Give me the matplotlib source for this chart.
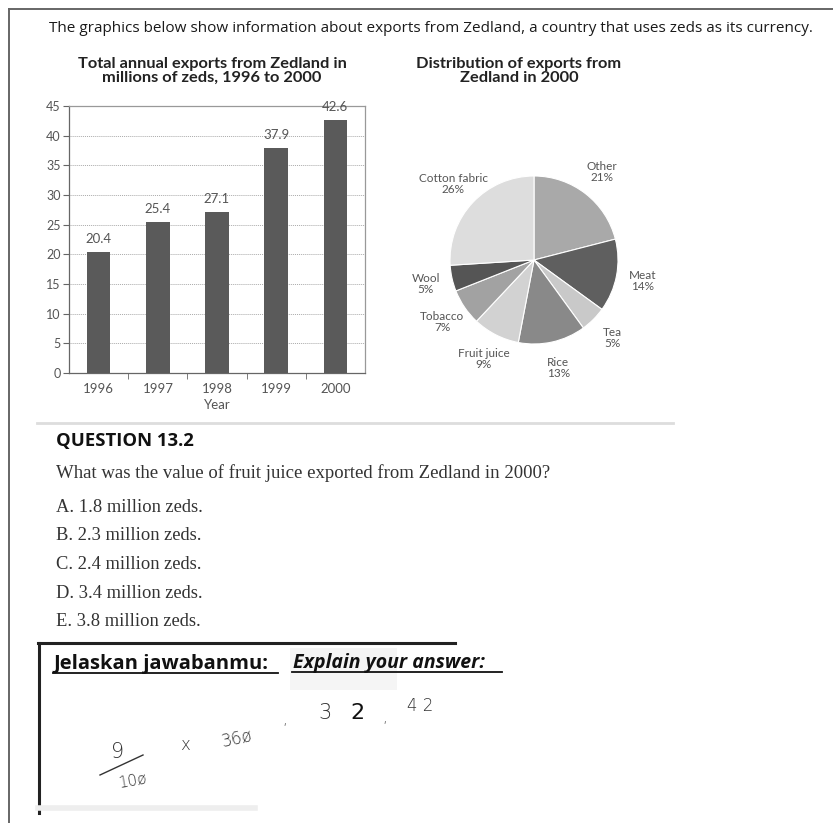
import matplotlib.pyplot as plt
from matplotlib.lines import Line2D
from matplotlib.patches import Rectangle

plt.rcParams.update({'font.family': 'Lato', 'font.size': 8})

# bar chart data
years = ['1996', '1997', '1998', '1999', '2000']
exports = [20.4, 25.4, 27.1, 37.9, 42.6]
y_ticks = [0, 5, 10, 15, 20, 25, 30, 35, 40, 45]

# pie chart data (clockwise from the top)
pie_labels = ['Other', 'Meat', 'Tea', 'Rice', 'Fruit juice', 'Tobacco', 'Wool', 'Cotton fabric']
pie_shares = [21, 14, 5, 13, 9, 7, 5, 26]
pie_colors = ['#a9a9a9', '#5f5f5f', '#c9c9c9', '#898989', '#d2d2d2', '#a2a2a2', '#555555', '#dddddd']

# question text
question = 'What was the value of fruit juice exported from Zedland in 2000?'
options = ['A. 1.8 million zeds.', 'B. 2.3 million zeds.', 'C. 2.4 million zeds.',
           'D. 3.4 million zeds.', 'E. 3.8 million zeds.']

W, H = 833, 823
fig = plt.figure(figsize=(W / 100, H / 100), dpi=100)


def fx(px):
    return px / W


def fy(py):
    return 1 - py / H


# page border
fig.add_artist(Line2D([fx(9), fx(9)], [fy(9), fy(823)], color='#666666', lw=1.4))
fig.add_artist(Line2D([fx(9), fx(833)], [fy(9), fy(9)], color='#666666', lw=1.4))

fig.text(fx(49), fy(28), 'The graphics below show information about exports from Zedland, '
         'a country that uses zeds as its currency.', ha='left', va='center',
         fontsize=11.0, color='#1a1a1a', family='Open Sans')

# titles
fig.text(fx(212), fy(71), 'Total annual exports from Zedland in\nmillions of zeds, 1996 to 2000',
         ha='center', va='center', fontsize=11.8, fontweight='bold', color='#222222', linespacing=0.95)
fig.text(fx(519), fy(71), 'Distribution of exports from\nZedland in 2000',
         ha='center', va='center', fontsize=11.8, fontweight='bold', color='#222222', linespacing=0.95)

# bar chart
ax = fig.add_axes([fx(69), fy(373), fx(365) - fx(69), fy(106) - fy(373)])
x = range(len(years))
bars = ax.bar(x, exports, width=0.4, color='#5a5a5a', zorder=3)
for xi, v in zip(x, exports):
    ax.annotate(f'{v}', (xi, v), xytext=(0, 5), textcoords='offset points',
                ha='center', va='bottom', fontsize=9.5, color='#555555', annotation_clip=False)
ax.set_xlim(-0.5, len(years) - 0.5)
ax.set_ylim(0, 45)
ax.set_yticks(y_ticks)
ax.set_yticklabels([str(t) for t in y_ticks], color='#555555', fontsize=9)
ax.set_xticks(list(x))
ax.set_xticklabels(years, color='#555555', fontsize=9.5)
ax.set_xticks([i + 0.5 for i in range(len(years) - 1)], minor=True)
ax.tick_params(axis='x', which='major', length=0, pad=7)
ax.tick_params(axis='x', which='minor', length=4, color='#666666', direction='out')
ax.tick_params(axis='y', length=4, color='#666666', pad=2)
for y in y_ticks[1:-1]:
    ax.axhline(y, color='#aaaaaa', lw=0.7, ls=(0, (1, 1)), zorder=1)
for s in ax.spines.values():
    s.set_color('#999999')
    s.set_linewidth(0.9)
ax.spines['left'].set_color('#666666')
ax.spines['bottom'].set_color('#666666')
ax.set_xlabel('Year', color='#555555', fontsize=9.5, labelpad=3)

# pie chart
pax = fig.add_axes([fx(450), fy(344), fx(168), 168 / H])
wedges, texts = pax.pie(pie_shares, colors=pie_colors, startangle=90, counterclock=False,
                        labels=[f'{l}\n{s}%' for l, s in zip(pie_labels, pie_shares)],
                        labeldistance=1.32, wedgeprops={'edgecolor': 'white', 'linewidth': 0.8},
                        textprops={'fontsize': 8.5, 'color': '#555555', 'linespacing': 1.0})
for t in texts:
    t.set_ha('center')
    t.set_va('center')
pax.set_xlim(-1, 1)
pax.set_ylim(-1, 1)

# separator
fig.add_artist(Line2D([fx(37), fx(673)], [fy(423), fy(423)], color='#dddddd', lw=2))

fig.text(fx(56), fy(441), 'QUESTION 13.2', ha='left', va='center', fontsize=13.3,
         fontweight='bold', color='#111111', family='Open Sans')
fig.text(fx(56), fy(473), question, ha='left', va='center', fontsize=13.5,
         color='#333333', family='Liberation Serif')
for i, opt in enumerate(options):
    fig.text(fx(56), fy(507 + 28.7 * i), opt, ha='left', va='center', fontsize=13.3,
             color='#333333', family='Liberation Serif')

# answer box
fig.add_artist(Rectangle((fx(290), fy(690)), fx(107), (690 - 648) / H, color='#f5f5f5', lw=0))
fig.add_artist(Line2D([fx(38), fx(455)], [fy(643), fy(643)], color='#222222', lw=2.2))
fig.add_artist(Line2D([fx(39), fx(39)], [fy(643), fy(813)], color='#222222', lw=2.2))
fig.add_artist(Line2D([fx(38), fx(255)], [fy(808), fy(808)], color='#eeeeee', lw=4))
fig.text(fx(53), fy(664), 'Jelaskan jawabanmu:', ha='left', va='center', fontsize=14.5,
         fontweight='bold', color='#111111', family='Open Sans')
fig.add_artist(Line2D([fx(53), fx(278)], [fy(673), fy(673)], color='#111111', lw=1.3))
fig.text(fx(293), fy(663), 'Explain your answer:', ha='left', va='center', fontsize=14,
         fontweight='bold', style='italic', color='#111111', family='Open Sans',
         stretch='condensed')
fig.add_artist(Line2D([fx(292), fx(502)], [fy(672), fy(672)], color='#111111', lw=1.3))

# handwritten working
hand = dict(color='#333333', family='DejaVu Sans', fontweight='light')
fig.text(fx(118), fy(752), '9', fontsize=15, ha='center', va='center', **hand)
fig.add_artist(Line2D([fx(100), fx(143)], [fy(775), fy(755)], color='#333333', lw=1))
fig.text(fx(133), fy(781), '10ø', fontsize=11, ha='center', va='center', rotation=10, **hand)
fig.text(fx(185), fy(745), 'x', fontsize=12, ha='center', va='center', **hand)
fig.text(fx(237), fy(738), '36ø', fontsize=12, ha='center', va='center', rotation=12, **hand)
fig.text(fx(285), fy(720), ',', fontsize=11, ha='center', va='center', **hand)
fig.text(fx(325), fy(713), '3', fontsize=15, ha='center', va='center', **hand)
fig.text(fx(357), fy(713), '2', fontsize=16, ha='center', va='center', color='#111111',
         family='DejaVu Sans')
fig.text(fx(385), fy(718), ',', fontsize=11, ha='center', va='center', **hand)
fig.text(fx(420), fy(706), '4 2', fontsize=12, ha='center', va='center', **hand)

fig.savefig('out.png', dpi=100)
